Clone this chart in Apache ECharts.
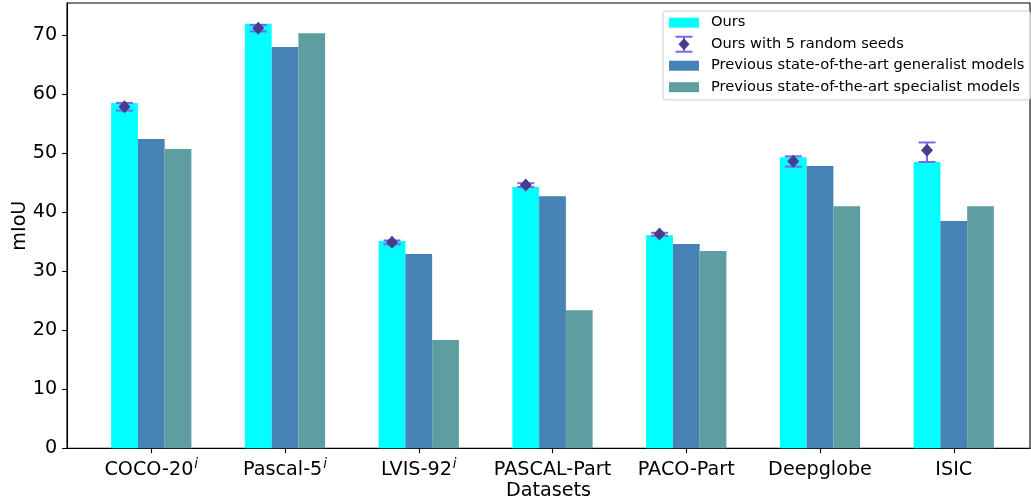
<!DOCTYPE html>
<html>
<head>
<meta charset="utf-8">
<script src="https://cdn.jsdelivr.net/npm/echarts@6/dist/echarts.min.js"></script>
<style>
html,body{margin:0;padding:0;background:#fff;}
#chart{width:1031px;height:499px;}
</style>
</head>
<body>
<div id="chart"></div>
<script>
// ---- data ----
const categories = ['COCO-20', 'Pascal-5', 'LVIS-92', 'PASCAL-Part', 'PACO-Part', 'Deepglobe', 'ISIC'];
const superscripts = ['i', 'i', 'i', '', '', '', ''];
const ours = [58.5, 71.9, 35.1, 44.25, 36.1, 49.3, 48.5];
const generalist = [52.4, 67.95, 32.9, 42.7, 34.6, 47.8, 38.5];
const specialist = [50.7, 70.3, 18.35, 23.4, 33.4, 41.0, 41.0];
const seedMean = [57.85, 71.15, 34.9, 44.6, 36.3, 48.6, 50.5];
const seedLow  = [57.2, 70.6, 34.55, 44.25, 36.0, 47.7, 48.5];
const seedHigh = [58.5, 71.7, 35.2, 44.9, 36.5, 49.45, 51.8];
const yTicks = [0, 10, 20, 30, 40, 50, 60, 70];

const names = ['Ours', 'Ours with 5 random seeds',
  'Previous state-of-the-art generalist models',
  'Previous state-of-the-art specialist models'];

const FONT = 'DejaVu Sans';
const FS = 19.2;
const LFS = 14.65;
const xIdx = categories.map((c, i) => i);

const rectIcon = 'path://M0,0M30,17M0,3.5h30v10h-30z';
const ibeamIcon = 'path://M0,0M30,17M6.5,0h17v2h-17zM14,0h2v17h-2zM6.5,15h17v2h-17z';
const diamondIcon = 'path://M0,0M30,17M15,2.5L20.5,8.5L15,14.5L9.5,8.5Z';

const chart = echarts.init(document.getElementById('chart'), null, {renderer: 'canvas'});

const option = {
  animation: false,
  backgroundColor: '#fff',
  grid: {
    left: 67, right: 1, top: 3, bottom: 50.7,
    outerBoundsMode: 'none',
    containLabel: false,
    show: true, borderColor: '#000', borderWidth: 1.1, backgroundColor: 'transparent'
  },
  legend: [{
    orient: 'vertical',
    left: 663, top: 11,
    padding: [3.2, 6, 4.2, 6],
    itemWidth: 30, itemHeight: 17, itemGap: 4.5,
    backgroundColor: 'rgba(255,255,255,0.8)',
    borderColor: '#cccccc', borderWidth: 1, borderRadius: 3,
    textStyle: {fontFamily: FONT, fontSize: LFS, color: '#000', padding: [0, 0, 0, 7]},
    data: [
      {name: names[0], icon: rectIcon},
      {name: names[1], icon: ibeamIcon, itemStyle: {color: '#7B68EE'}},
      {name: names[2], icon: rectIcon},
      {name: names[3], icon: rectIcon}
    ],
    selectedMode: false
  }, {
    orient: 'vertical',
    left: 669, top: 35.7,
    padding: 0,
    itemWidth: 30, itemHeight: 17,
    z: 10,
    formatter: () => '',
    textStyle: {fontSize: 10},
    data: [{name: names[1], icon: diamondIcon, itemStyle: {color: '#483D8B'}}],
    selectedMode: false
  }],
  xAxis: {
    type: 'value',
    min: -0.63, max: 6.57,
    name: 'Datasets',
    nameLocation: 'middle',
    nameGap: 33,
    nameMoveOverlap: false,
    nameTextStyle: {fontFamily: FONT, fontSize: FS, color: '#000'},
    axisLine: {show: true, onZero: false, lineStyle: {color: '#000', width: 1.1}},
    axisTick: {show: true, length: 4.9, lineStyle: {color: '#000', width: 1.1}, customValues: xIdx},
    axisLabel: {
      show: true, margin: 10.2, customValues: xIdx,
      fontFamily: FONT, fontSize: FS, color: '#000',
      formatter: function (v) {
        const i = Math.round(v);
        const s = superscripts[i];
        return '{a|' + categories[i] + '}' + (s ? '{s|' + s + '}' : '');
      },
      rich: {
        a: {fontFamily: FONT, fontSize: FS, color: '#000', lineHeight: 23},
        s: {fontFamily: FONT, fontSize: 13.4, fontStyle: 'italic', color: '#000', verticalAlign: 'top', lineHeight: 13, padding: [0, 0, 0, 1]}
      }
    },
    splitLine: {show: false}
  },
  yAxis: {
    type: 'value',
    min: 0, max: 75.42,
    name: 'mIoU',
    nameLocation: 'middle',
    nameRotate: 90,
    nameGap: 37,
    nameMoveOverlap: false,
    nameTextStyle: {fontFamily: FONT, fontSize: FS, color: '#000'},
    axisLine: {show: true, onZero: false, lineStyle: {color: '#000', width: 1.1}},
    axisTick: {show: true, length: 4.9, lineStyle: {color: '#000', width: 1.1}, customValues: yTicks},
    axisLabel: {show: true, margin: 9.8, customValues: yTicks, fontFamily: FONT, fontSize: FS, color: '#000'},
    splitLine: {show: false}
  },
  series: [
    {
      name: names[0], type: 'bar', barWidth: '20%', barGap: '0%',
      itemStyle: {color: '#00FFFF'},
      data: ours.map((v, i) => [i, v])
    },
    {
      name: names[2], type: 'bar', barWidth: '20%', barGap: '0%',
      itemStyle: {color: '#4682B4'},
      data: generalist.map((v, i) => [i, v])
    },
    {
      name: names[3], type: 'bar', barWidth: '20%', barGap: '0%',
      itemStyle: {color: '#5F9EA0'},
      data: specialist.map((v, i) => [i, v])
    },
    {
      name: names[1], type: 'custom',
      itemStyle: {color: '#7B68EE'},
      z: 5,
      data: seedMean.map((m, i) => [i, m, seedLow[i], seedHigh[i]]),
      renderItem: function (params, api) {
        const bw = api.size([0.2, 0])[0];
        const x = api.coord([api.value(0), 0])[0] - bw;
        const ym = api.coord([0, api.value(1)])[1];
        const yl = api.coord([0, api.value(2)])[1];
        const yh = api.coord([0, api.value(3)])[1];
        const capHalf = 8.5;
        const ls = {stroke: '#7B68EE', lineWidth: 2};
        return {
          type: 'group',
          children: [
            {type: 'line', shape: {x1: x, y1: yh, x2: x, y2: yl}, style: ls},
            {type: 'line', shape: {x1: x - capHalf, y1: yh, x2: x + capHalf, y2: yh}, style: ls},
            {type: 'line', shape: {x1: x - capHalf, y1: yl, x2: x + capHalf, y2: yl}, style: ls},
            {type: 'polygon', shape: {points: [[x, ym - 6.5], [x + 6, ym], [x, ym + 6.5], [x - 6, ym]]}, style: {fill: '#483D8B'}}
          ]
        };
      }
    }
  ]
};
chart.setOption(option);
</script>
</body>
</html>
